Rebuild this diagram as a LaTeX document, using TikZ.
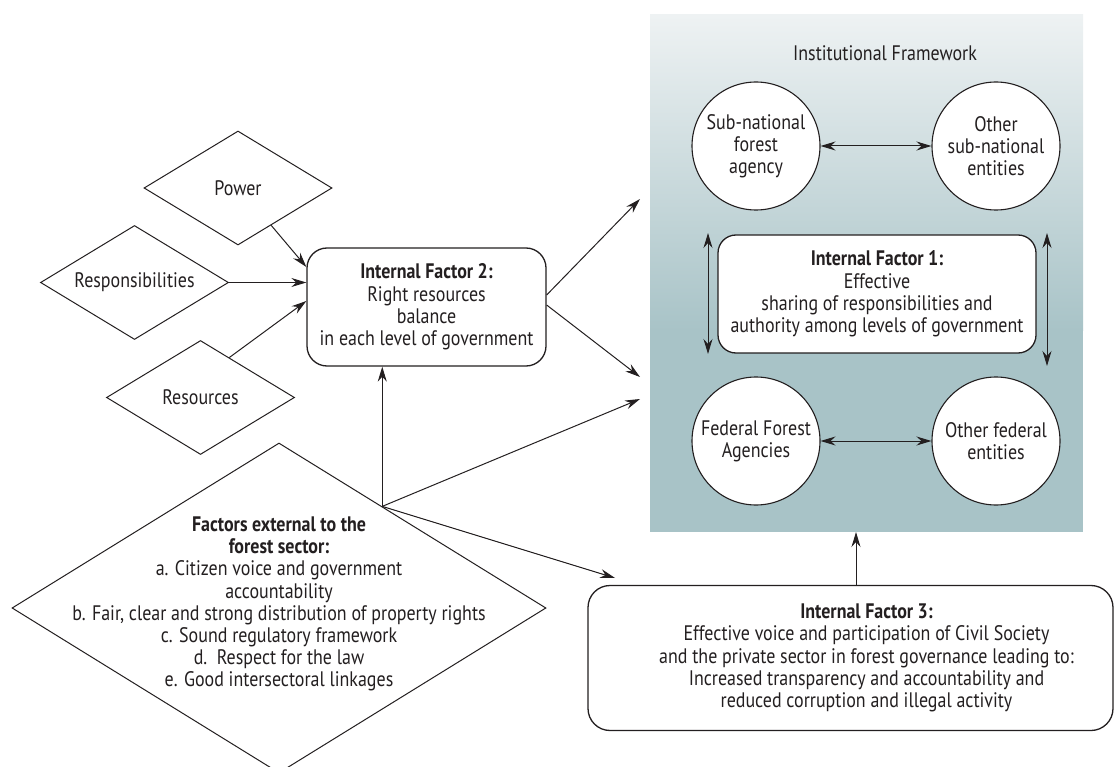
\documentclass[tikz,border=0pt]{standalone}
\usepackage{fontspec}
\setmainfont{PT Sans}[FakeStretch=0.855]
\usetikzlibrary{shapes.geometric,arrows.meta,calc}
\definecolor{ink}{HTML}{231F20}
\definecolor{tealA}{HTML}{A8C3C7}
\definecolor{tealB}{HTML}{EEF2F3}
\begin{document}
\begin{tikzpicture}[x=1pt,y=-1pt,
  font=\fontsize{21}{22.2}\selectfont,
  every node/.style={text=ink, inner sep=0pt},
  conn/.style={draw=ink, line width=1pt, -{Stealth[length=15pt,width=9pt,inset=5pt]}},
  dconn/.style={draw=ink, line width=1pt, {Stealth[length=15pt,width=9pt,inset=5pt]}-{Stealth[length=15pt,width=9pt,inset=5pt]}},
  dia/.style={diamond, draw=ink, line width=1pt, fill=white, inner sep=0pt},
  ent/.style={circle, draw=ink, line width=1.1pt, fill=white, minimum size=128pt, align=center},
  factor/.style={rectangle, draw=ink, line width=1.3pt, fill=white, align=center}
]
\useasboundingbox (0,0) rectangle (1114,767);

% panel
\shade[top color=tealB, bottom color=tealA] (650,15) rectangle (1083,331);
\fill[tealA] (650,330) rectangle (1083,532);

\node (title) at (885,53) {Institutional Framework};

% entities
\node[ent] (sub) at (756,146) {Sub-national\\forest\\agency};
\node[ent] (oth) at (996,146) {Other\\sub-national\\entities};
\node[ent] (fed) at (756,441) {Federal Forest\\Agencies};
\node[ent] (ofe) at (996,441) {Other federal\\entities};

\node[factor, rounded corners=18pt, minimum width=318pt, minimum height=118pt] (if1) at (877,294)
  {\textbf{Internal Factor 1:}\\Effective\\sharing of responsibilities and\\authority among levels of government};

\node[factor, rounded corners=20pt, minimum width=239pt, minimum height=118pt] (if2) at (426.5,307)
  {\textbf{Internal Factor 2:}\\Right resources\\balance\\in each level of government};

\node[factor, rounded corners=22pt, minimum width=525pt, minimum height=145pt,
  label={[align=center, xshift=16pt]center:{\textbf{Internal Factor 3:}\\Effective voice and participation of Civil Society\\and the private sector in forest governance leading to:\\Increased transparency and accountability and\\reduced corruption and illegal activity}}] (if3) at (850.5,658) {};

% diamonds
\node[dia, minimum width=188pt, minimum height=114pt, label=center:Power] (pow) at (238,188) {};
\node[dia, minimum width=188pt, minimum height=114pt, label=center:Responsibilities] (resp) at (134.5,282.5) {};
\node[dia, minimum width=188pt, minimum height=114pt, label=center:Resources] (res) at (200.5,397.5) {};
\node[dia, minimum width=534pt, minimum height=330pt] (ext) at (279,608) {};
\node[align=center] (exttext) at (279,604)
  {\textbf{Factors external to the}\\\textbf{forest sector:}\\a. Citizen voice and government\\accountability\\b. Fair, clear and strong distribution of property rights\\c. Sound regulatory framework\\d.\ \ Respect for the law\\e. Good intersectoral linkages};

% free ends
\coordinate (o) at ($(ext.north)!0.386!(ext.east)$);
\coordinate (p1) at (640,199);
\coordinate (p2) at (640,377);
\coordinate (p3) at (640,399);
\coordinate (t3) at (615,578);
\coordinate (pb) at (856,532);
\coordinate (l1) at (708,233);
\coordinate (l2) at (708,354);
\coordinate (r1) at (1047,233);
\coordinate (r2) at (1047,366);

% connectors
\draw[conn] ($(pow.south)!0.351!(pow.east)$) -- ([yshift=40pt]if2.west);
\draw[conn] (resp.east) -- (resp.east -| if2.west);
\draw[conn] ($(res.north)!0.305!(res.east)$) -- ([yshift=6pt]if2.west);
\draw[conn] (o) -- (o |- if2.south);
\draw[conn] ([yshift=12pt]if2.east) -- (p1);
\draw[conn] ([yshift=2pt]if2.east) -- (p2);
\draw[conn] (o) -- (p3);
\draw[conn] (o) -- (t3);
\draw[conn] (if3.north -| pb) -- (pb);
\draw[dconn] (sub) -- (oth);
\draw[dconn] (fed) -- (ofe);
\draw[dconn] (l1) -- (l2);
\draw[dconn] (r1) -- (r2);
\end{tikzpicture}
\end{document}
